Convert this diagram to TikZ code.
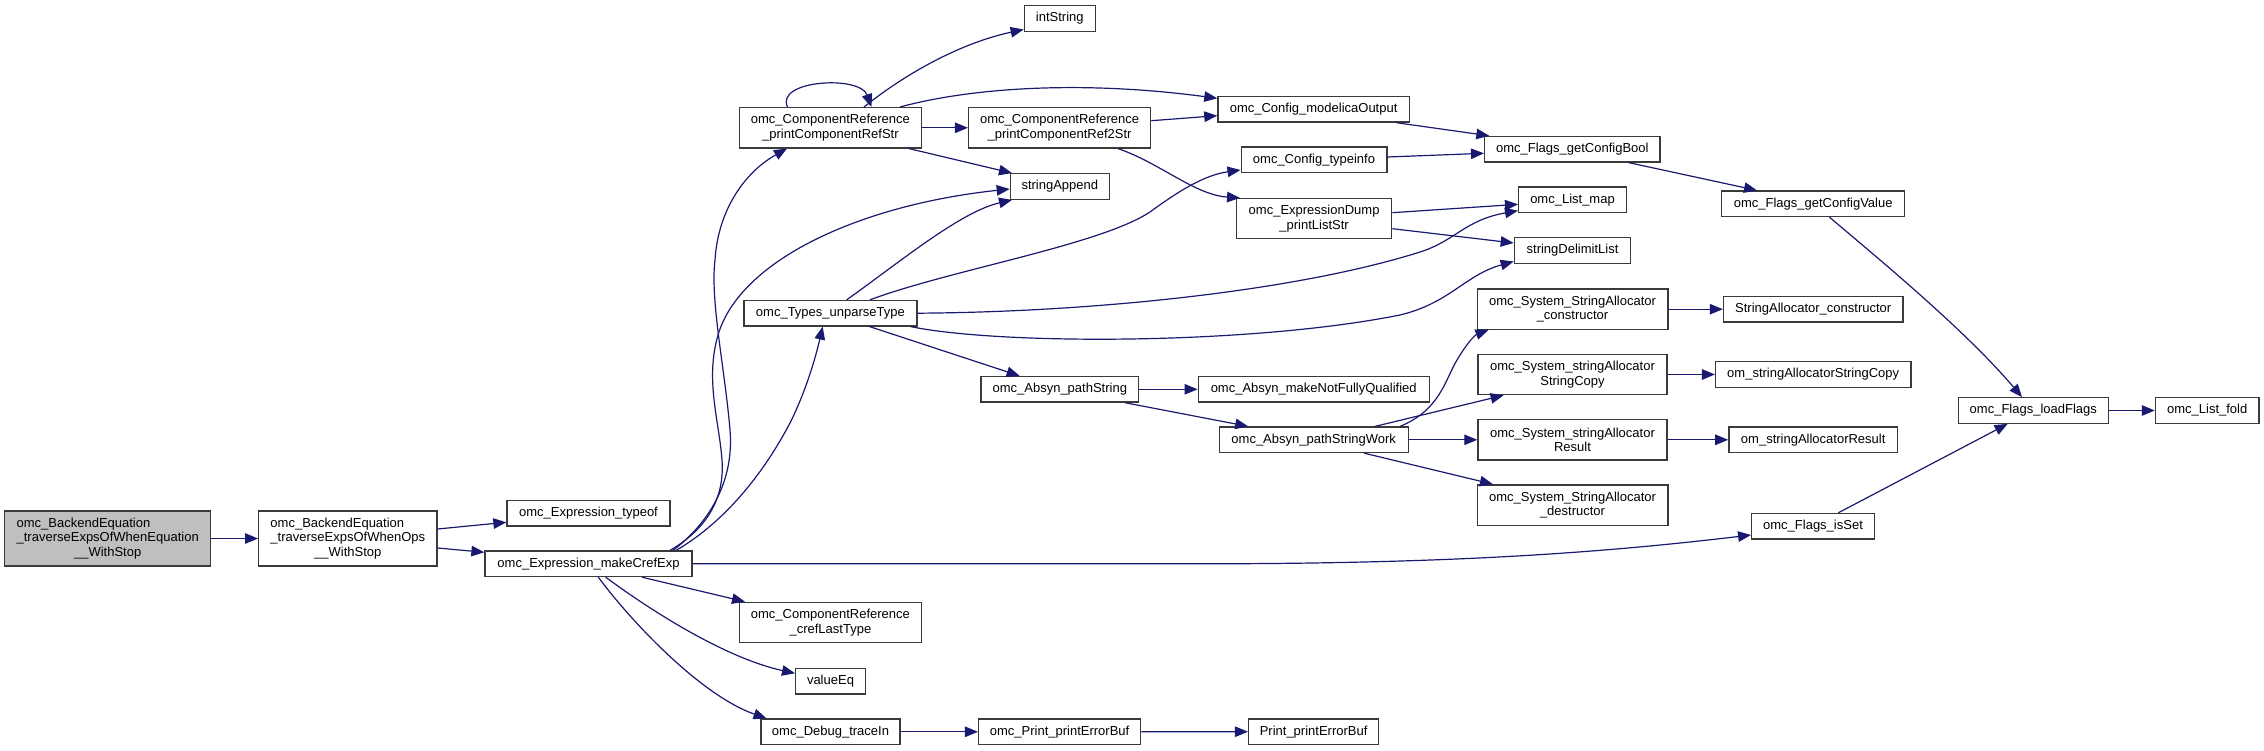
\documentclass[tikz,border=0pt]{standalone}
\usepackage{fontspec}
\setmainfont{Liberation Sans}
\usetikzlibrary{arrows.meta}
\definecolor{edgeblue}{HTML}{191970}
\definecolor{boxborder}{HTML}{3A3A3A}
\definecolor{grayfill}{HTML}{BFBFBF}
\newcommand\dxfont{\fontsize{13}{14.7}\selectfont}
\newcommand\dxleft[2]{\makebox[0pt][l]{#1}\phantom{#2}}
\tikzset{
  dxbox/.style={draw=boxborder, line width=1.3pt, fill=white, inner sep=0pt, align=center, font=\dxfont},
  one/.style={minimum height=25.5pt},
  two/.style={minimum height=40.3pt},
  three/.style={minimum height=55pt},
  conn/.style={draw=edgeblue, line width=1.2pt, -{Triangle[length=13pt,width=10.5pt]}}
}
\begin{document}
\begin{tikzpicture}[x=1pt,y=-1pt]
\useasboundingbox (0,0) rectangle (2264,751);

% column 1-3
\node[dxbox, three, minimum width=206pt, fill=grayfill] (A) at (107.7,538.5)
  {\dxleft{omc\_BackendEquation}{\_traverseExpsOfWhenEquation}\\\_traverseExpsOfWhenEquation\\\_\_WithStop};
\node[dxbox, three, minimum width=178.3pt] (B) at (347.8,538.5)
  {\dxleft{omc\_BackendEquation}{\_traverseExpsOfWhenOps}\\\_traverseExpsOfWhenOps\\\_\_WithStop};
\node[dxbox, one, minimum width=163pt] (typeof) at (588.5,513.2) {omc\_Expression\_typeof};
\node[dxbox, one, minimum width=207pt] (mce) at (588.5,563.8) {omc\_Expression\_makeCrefExp};

% column 4
\node[dxbox, two, minimum width=182pt] (pcrs) at (830.4,127.8) {omc\_ComponentReference\\\_printComponentRefStr};
\node[dxbox, one, minimum width=173pt] (types) at (830.4,313.2) {omc\_Types\_unparseType};
\node[dxbox, two, minimum width=182pt] (cref) at (830.4,622.5) {omc\_ComponentReference\\\_crefLastType};
\node[dxbox, one, minimum width=69.7pt] (valueEq) at (830.5,681.2) {valueEq};
\node[dxbox, one, minimum width=139pt] (debug) at (830.5,731.8) {omc\_Debug\_traceIn};

% column 5
\node[dxbox, one, minimum width=71pt] (intString) at (1059.8,18.5) {intString};
\node[dxbox, two, minimum width=182pt] (pcr2s) at (1059.6,127.8) {omc\_ComponentReference\\\_printComponentRef2Str};
\node[dxbox, one, minimum width=99pt] (sapp) at (1059.8,186.5) {stringAppend};
\node[dxbox, one, minimum width=157.5pt] (pathString) at (1059.8,389.3) {omc\_Absyn\_pathString};
\node[dxbox, one, minimum width=162pt] (printErr) at (1059.6,731.8) {omc\_Print\_printErrorBuf};

% column 6
\node[dxbox, one, minimum width=191.4pt] (cmo) at (1313.6,109.3) {omc\_Config\_modelicaOutput};
\node[dxbox, one, minimum width=145.7pt] (ctype) at (1314,159.8) {omc\_Config\_typeinfo};
\node[dxbox, two, minimum width=155.4pt] (edump) at (1314.1,218.7) {omc\_ExpressionDump\\\_printListStr};
\node[dxbox, one, minimum width=231pt] (mnfq) at (1313.7,389.3) {omc\_Absyn\_makeNotFullyQualified};
\node[dxbox, one, minimum width=189pt] (psw) at (1313.7,439.8) {omc\_Absyn\_pathStringWork};
\node[dxbox, one, minimum width=130pt] (ppeb) at (1313.6,731.7) {Print\_printErrorBuf};

% column 7
\node[dxbox, one, minimum width=175.4pt] (cbool) at (1572.3,149.2) {omc\_Flags\_getConfigBool};
\node[dxbox, one, minimum width=107.8pt] (listmap) at (1572.5,199.7) {omc\_List\_map};
\node[dxbox, one, minimum width=116.4pt] (sdl) at (1572.5,250.5) {stringDelimitList};
\node[dxbox, two, minimum width=190.7pt] (sac) at (1572.5,309.2) {omc\_System\_StringAllocator\\\_constructor};
\node[dxbox, two, minimum width=189.2pt] (ssc) at (1572.5,374.5) {omc\_System\_stringAllocator\\StringCopy};
\node[dxbox, two, minimum width=189.2pt] (sres) at (1572.5,439.8) {omc\_System\_stringAllocator\\Result};
\node[dxbox, two, minimum width=190.7pt] (sdes) at (1572.5,505) {omc\_System\_StringAllocator\\\_destructor};

% column 8
\node[dxbox, one, minimum width=183pt] (cval) at (1813.2,203.8) {omc\_Flags\_getConfigValue};
\node[dxbox, one, minimum width=179.5pt] (sacon) at (1813.2,309.2) {StringAllocator\_constructor};
\node[dxbox, one, minimum width=195.3pt] (omsc) at (1813.2,374.5) {om\_stringAllocatorStringCopy};
\node[dxbox, one, minimum width=168.7pt] (omres) at (1813.2,439.8) {om\_stringAllocatorResult};
\node[dxbox, one, minimum width=122.6pt] (isSet) at (1813,526.2) {omc\_Flags\_isSet};

% column 9-10
\node[dxbox, one, minimum width=150pt] (loadFlags) at (2033.3,410.5) {omc\_Flags\_loadFlags};
\node[dxbox, one, minimum width=103.6pt] (fold) at (2207.2,410.5) {omc\_List\_fold};

% edges
\draw[conn] (A.east) -- (B.west);
\draw[conn] ([yshift=9.5]B.east) -- ([yshift=-9.1]typeof.west);
\draw[conn] ([yshift=-9.5]B.east) -- ([yshift=11.5]mce.west);

\draw[conn] ([xshift=84.5]mce.north) .. controls (700,530) and (735,490) .. (730,430)
   .. controls (725,370) and (710,300) .. (715,260)
   .. controls (718,210) and (745,172) .. ([xshift=-43.4]pcrs.south);
\draw[conn] ([xshift=81.5]mce.north) .. controls (705,530) and (725,500) .. (722,460)
   .. controls (719,420) and (705,380) .. (718,335)
   .. controls (740,260) and (860,205) .. ([yshift=-2.5]sapp.west);
\draw[conn] ([xshift=87.5]mce.north) .. controls (720,525) and (760,480) .. (790,423)
   .. controls (805,393) and (815,360) .. ([xshift=-7.7]types.south);
\draw[conn] (mce.east) -- (1200,563.8) .. controls (1450,563.8) and (1600,553) .. ([yshift=-8.8]isSet.west);
\draw[conn] ([xshift=53.5]mce.south) -- ([xshift=-85.4]cref.north);
\draw[conn] ([xshift=17.2]mce.south) .. controls (650,610) and (725,658) .. ([yshift=7.9]valueEq.west);
\draw[conn] ([xshift=9.8]mce.south) .. controls (630,620) and (700,695) .. ([xshift=-64]debug.north);

\draw[conn] ([xshift=-42.9]pcrs.north) .. controls (775,80) and (860,75) .. ([xshift=41]pcrs.north);
\draw[conn] ([xshift=33.6]pcrs.north) .. controls (910,70) and (965,42) .. ([yshift=-11]intString.west);
\draw[conn] ([xshift=69.6]pcrs.north) .. controls (970,88) and (1080,80) .. ([yshift=11]cmo.west);
\draw[conn] (pcrs.east) -- (pcr2s.west);
\draw[conn] ([xshift=78.6]pcrs.south) -- ([xshift=-47.8]sapp.north);
\draw[conn] ([yshift=7.1]pcr2s.east) -- ([yshift=-6.4]cmo.west);
\draw[conn] ([xshift=58.4]pcr2s.south) .. controls (1160,163) and (1195,195) .. ([xshift=-74.1]edump.north);

\draw[conn] ([xshift=16.3]types.north) .. controls (900,262) and (960,212) .. ([xshift=-47.8]sapp.south);
\draw[conn] ([xshift=39.6]types.north) .. controls (950,270) and (1100,245) .. (1150,212)
   .. controls (1180,190) and (1205,175) .. ([yshift=-10.2]ctype.west);
\draw[conn] (types.east) .. controls (1100,312) and (1300,290) .. (1420,252)
   .. controls (1455,241) and (1465,220) .. ([yshift=-11]listmap.west);
\draw[conn] ([xshift=-7]types.south east) .. controls (1000,345) and (1250,345) .. (1400,315)
   .. controls (1450,303) and (1465,275) .. ([yshift=-11]sdl.west);
\draw[conn] ([xshift=39.2]types.south) -- ([xshift=-40.2]pathString.north);

\draw[conn] ([xshift=82.8]cmo.south) -- ([xshift=-83]cbool.north);
\draw[conn] ([yshift=2.8]ctype.east) -- ([yshift=-4.1]cbool.west);
\draw[conn] ([xshift=56.3]cbool.south) -- ([xshift=-56.2]cval.north);
\draw[conn] ([xshift=16.3]cval.south) .. controls (1880,260) and (1965,330) .. ([xshift=-11.3]loadFlags.north);
\draw[conn] ([xshift=25.3]isSet.north) -- ([xshift=-25.7]loadFlags.south);
\draw[conn] (loadFlags.east) -- (fold.west);
\draw[conn] ([yshift=6]edump.east) -- ([yshift=-4.6]listmap.west);
\draw[conn] ([yshift=-10]edump.east) -- ([yshift=7.5]sdl.west);

\draw[conn] (pathString.east) -- (mnfq.west);
\draw[conn] ([xshift=65.2]pathString.south) -- ([xshift=-65.5]psw.north);
\draw[conn] ([xshift=86.3]psw.north) .. controls (1440,410) and (1445,380) .. (1457,360)
   .. controls (1467,343) and (1475,335) .. ([xshift=-84]sac.south);
\draw[conn] ([xshift=61.3]psw.north) -- ([xshift=-68.9]ssc.south);
\draw[conn] (psw.east) -- (sres.west);
\draw[conn] ([xshift=50.6]psw.south) -- ([xshift=-79.6]sdes.north);
\draw[conn] (sac.east) -- (sacon.west);
\draw[conn] (ssc.east) -- (omsc.west);
\draw[conn] (sres.east) -- (omres.west);

\draw[conn] (debug.east) -- (printErr.west);
\draw[conn] (printErr.east) -- (ppeb.west);
\end{tikzpicture}
\end{document}
